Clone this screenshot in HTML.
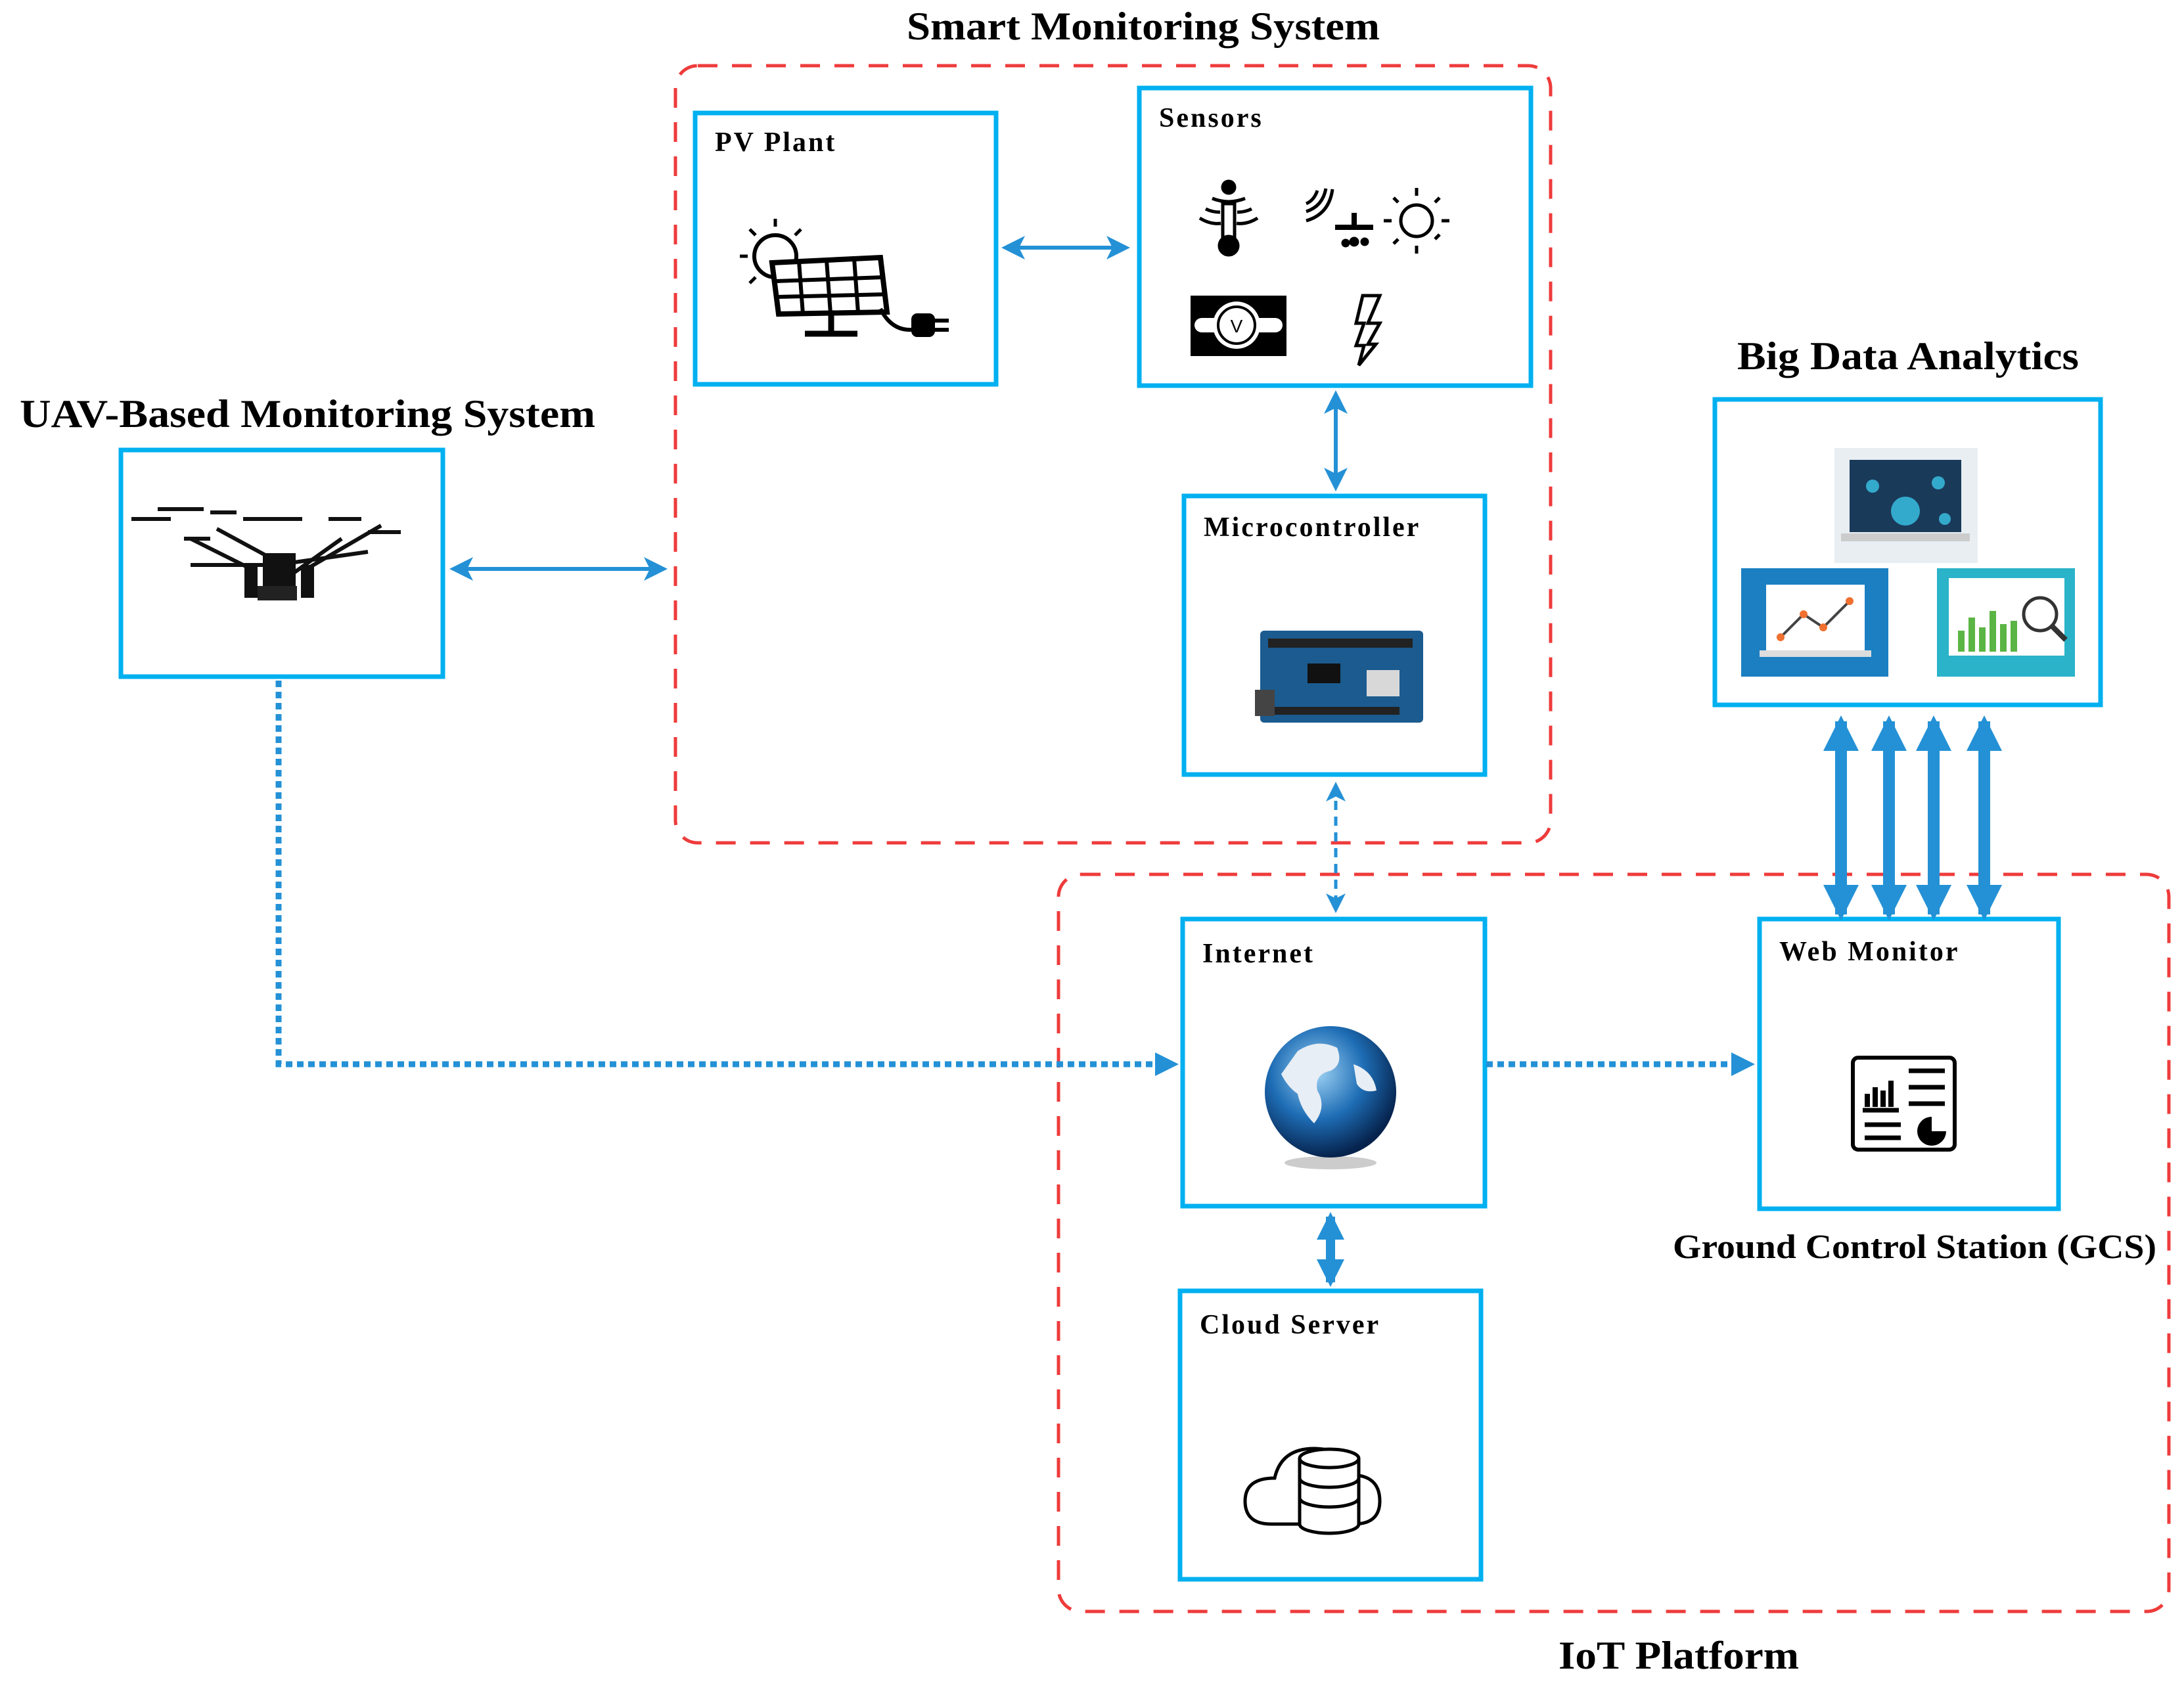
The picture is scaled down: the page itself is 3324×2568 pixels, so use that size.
<!DOCTYPE html>
<html><head><meta charset="utf-8"><style>html,body{margin:0;padding:0;background:#fff}svg{display:block}</style></head>
<body>
<svg width="3324" height="2568" viewBox="0 0 3324 2568" xmlns="http://www.w3.org/2000/svg" font-family="Liberation Serif, serif">
<defs>
<marker id="ah" markerWidth="6" markerHeight="6" refX="5" refY="3" orient="auto-start-reverse" markerUnits="strokeWidth"><path d="M0,0 L6,3 L0,6 L1.5,3 Z" fill="#2491d6"/></marker>
<marker id="ah2" markerWidth="4" markerHeight="4" refX="3" refY="2" orient="auto-start-reverse" markerUnits="strokeWidth"><path d="M0,0 L4,2 L0,4 Z" fill="#2491d6"/></marker>
<marker id="ah3" markerWidth="3" markerHeight="3" refX="2.5" refY="1.5" orient="auto-start-reverse" markerUnits="strokeWidth"><path d="M0,0 L3,1.5 L0,3 Z" fill="#2491d6"/></marker>
</defs>
<!-- titles -->
<text x="1740" y="60" font-size="60" font-weight="bold" text-anchor="middle" textLength="720" lengthAdjust="spacingAndGlyphs">Smart Monitoring System</text>
<text x="30" y="650" font-size="60" font-weight="bold" textLength="876" lengthAdjust="spacingAndGlyphs">UAV-Based Monitoring System</text>
<text x="2904" y="562" font-size="60" font-weight="bold" text-anchor="middle" textLength="520" lengthAdjust="spacingAndGlyphs">Big Data Analytics</text>
<text x="2546" y="1915" font-size="52" font-weight="bold" textLength="736" lengthAdjust="spacingAndGlyphs">Ground Control Station (GCS)</text>
<text x="2555" y="2540" font-size="60" font-weight="bold" text-anchor="middle" textLength="366" lengthAdjust="spacingAndGlyphs">IoT Platform</text>

<!-- red dashed groups -->
<rect x="1028" y="100" width="1332" height="1183" rx="34" fill="none" stroke="#ee3b3b" stroke-width="5" stroke-dasharray="30,22"/>
<rect x="1611" y="1331" width="1690" height="1122" rx="34" fill="none" stroke="#ee3b3b" stroke-width="5" stroke-dasharray="30,22"/>

<!-- boxes -->
<g fill="#fff" stroke="#00b0f0" stroke-width="7">
<rect x="1058" y="172" width="458" height="413"/>
<rect x="1734" y="134" width="596" height="453"/>
<rect x="1802" y="755" width="458" height="424"/>
<rect x="184" y="685" width="490" height="345"/>
<rect x="2610" y="608" width="587" height="465"/>
<rect x="1800" y="1399" width="460" height="437"/>
<rect x="2678" y="1399" width="455" height="441"/>
<rect x="1796" y="1965" width="458" height="439"/>
</g>
<g font-size="42" font-weight="bold" letter-spacing="3">
<text x="1088" y="230">PV Plant</text>
<text x="1764" y="193">Sensors</text>
<text x="1832" y="816">Microcontroller</text>
<text x="1830" y="1465">Internet</text>
<text x="2708" y="1462">Web Monitor</text>
<text x="1826" y="2030">Cloud Server</text>
</g>

<!-- PV icon -->
<g stroke="#000" fill="none" stroke-width="6">
<circle cx="1180" cy="390" r="32"/>
<g stroke-width="5"><path d="M1180,345v-12M1150,358l-9-9M1138,390h-12M1210,358l9-9M1150,422l-9,9"/></g>
<path d="M1175,400 L1340,392 L1350,475 L1185,478 Z" fill="#fff" stroke-width="8"/>
<path d="M1216,398 L1222,478 M1258,396 L1264,477 M1300,394 L1306,476 M1180,428 L1345,422 M1182,452 L1348,448" stroke-width="6"/>
<path d="M1265,478 v28 M1225,508 h80" stroke-width="9"/>
<path d="M1340,470 q20,40 60,30 h20"/>
<rect x="1390" y="480" width="30" height="30" rx="6" fill="#000"/>
<path d="M1420,488 h24 M1420,502 h24"/>
</g>

<!-- sensors icons -->
<g stroke="#000" fill="none" stroke-width="5">
<circle cx="1870" cy="285" r="9" fill="#000"/>
<rect x="1861" y="310" width="18" height="58"/>
<circle cx="1870" cy="374" r="14" fill="#000"/>
<path d="M1845,302 q25,10 50,0 M1835,318 q10,5 22,5 M1883,323 q12,0 22,-5 M1826,332 q16,10 32,8 M1882,340 q16,2 32,-8"/>
<path d="M1988,310 q12,-5 17,-20 M1988,322 q25,-8 30,-35 M1988,336 q35,-10 40,-48"/>
<path d="M2032,346 h58 M2061,324 v22" stroke-width="8"/>
<circle cx="2048" cy="370" r="4" fill="#000"/><circle cx="2061" cy="368" r="5" fill="#000"/><circle cx="2077" cy="368" r="4" fill="#000"/>
<circle cx="2156" cy="336" r="24"/>
<path d="M2156,298v-12 M2156,374v12 M2118,336h-12 M2194,336h12 M2128,308l-7,-7 M2184,308l7,-7 M2128,364l-7,7 M2184,364l7,-7"/>
</g>
<rect x="1812" y="450" width="146" height="92" fill="#000"/>
<rect x="1818" y="484" width="134" height="22" rx="11" fill="#fff"/>
<circle cx="1882" cy="495" r="36" fill="#fff"/>
<circle cx="1882" cy="495" r="28" fill="none" stroke="#000" stroke-width="4"/>
<text x="1882" y="506" font-size="28" text-anchor="middle" font-family="Liberation Sans, sans-serif">V</text>
<path d="M2074,450 h26 l-18,42 h18 l-18,32 h12 l-26,32 l8,-30 h-12 l12,-34 h-12 Z" fill="none" stroke="#000" stroke-width="5"/>

<!-- microcontroller board -->
<rect x="1918" y="960" width="248" height="140" rx="6" fill="#1b5b8f"/>
<rect x="1930" y="972" width="220" height="14" fill="#222"/>
<rect x="1930" y="1076" width="200" height="12" fill="#222"/>
<rect x="2080" y="1020" width="50" height="40" fill="#d8d8d8"/>
<rect x="1910" y="1050" width="30" height="40" fill="#444"/>
<rect x="1990" y="1010" width="50" height="30" fill="#111"/>

<!-- drone -->
<g stroke="#111" fill="none" stroke-width="6">
<path d="M330,805 L450,870 L520,820 M290,860 L420,860 L560,840 M390,870 L290,820 M460,870 L580,800"/>
<path d="M200,790 h60 M240,775 h70 M320,780 h40 M370,790 h50 M420,790 h40 M500,790 h50 M560,810 h50 M280,820 h40"/>
</g>
<rect x="400" y="842" width="50" height="55" fill="#111"/>
<rect x="372" y="860" width="20" height="50" fill="#111"/>
<rect x="458" y="860" width="20" height="50" fill="#111"/>
<rect x="392" y="892" width="60" height="22" fill="#222"/>

<!-- big data images -->
<rect x="2792" y="682" width="218" height="175" fill="#e8eef2"/>
<rect x="2815" y="700" width="170" height="110" fill="#1a3a5a"/>
<rect x="2802" y="812" width="196" height="12" fill="#ccc"/>
<circle cx="2900" cy="778" r="22" fill="#3ac"/>
<circle cx="2850" cy="740" r="10" fill="#3ac"/><circle cx="2950" cy="735" r="10" fill="#3ac"/><circle cx="2960" cy="790" r="9" fill="#3ac"/>
<rect x="2650" y="865" width="224" height="165" fill="#1b7fc2"/>
<rect x="2688" y="890" width="150" height="100" fill="#fff"/>
<rect x="2678" y="990" width="170" height="10" fill="#ddd"/>
<polyline points="2710,970 2745,935 2775,955 2815,915" fill="none" stroke="#444" stroke-width="4"/>
<g fill="#f07030"><circle cx="2710" cy="970" r="6"/><circle cx="2745" cy="935" r="6"/><circle cx="2775" cy="955" r="6"/><circle cx="2815" cy="915" r="6"/></g>
<rect x="2948" y="865" width="210" height="165" fill="#2ab3c9"/>
<rect x="2966" y="880" width="176" height="118" fill="#fff"/>
<g fill="#5bb544"><rect x="2980" y="960" width="10" height="32"/><rect x="2996" y="940" width="10" height="52"/><rect x="3012" y="955" width="10" height="37"/><rect x="3028" y="930" width="10" height="62"/><rect x="3044" y="950" width="10" height="42"/><rect x="3060" y="945" width="10" height="47"/></g>
<circle cx="3105" cy="935" r="25" fill="none" stroke="#333" stroke-width="5"/>
<path d="M3122,952 l22,22" stroke="#333" stroke-width="8"/>

<!-- globe -->
<defs><radialGradient id="gl" cx="40%" cy="35%" r="65%"><stop offset="0" stop-color="#9fd3f5"/><stop offset="0.55" stop-color="#1e6db5"/><stop offset="1" stop-color="#06234d"/></radialGradient></defs>
<ellipse cx="2025" cy="1770" rx="70" ry="10" fill="#ccc"/>
<circle cx="2025" cy="1662" r="100" fill="url(#gl)"/>
<path d="M1975,1600 q30,-20 60,-5 q10,25 -10,35 q-25,5 -20,30 q15,25 -5,50 q-20,-20 -25,-45 q-15,-10 -25,-30 Z M2060,1620 q30,10 35,40 q-20,5 -30,-10 Z" fill="#e8eef5"/>

<!-- web monitor icon -->
<rect x="2820" y="1610" width="155" height="140" rx="8" fill="#fff" stroke="#000" stroke-width="6"/>
<g fill="#000"><rect x="2838" y="1665" width="8" height="20"/><rect x="2850" y="1655" width="8" height="30"/><rect x="2862" y="1660" width="8" height="25"/><rect x="2874" y="1645" width="8" height="40"/></g>
<path d="M2835,1690 h55 M2905,1630 h55 M2905,1655 h55 M2905,1680 h55 M2838,1712 h55 M2838,1732 h55" stroke="#000" stroke-width="7"/>
<path d="M2940,1700 a22,22 0 1,0 22,22 h-22 Z" fill="#000"/>

<!-- cloud server -->
<path d="M1935,2320 q-40,0 -40,-35 q0,-35 45,-35 q10,-45 60,-45 q45,0 55,40 q45,0 45,40 q0,35 -40,35 Z" fill="#fff" stroke="#000" stroke-width="5"/>
<g fill="#fff" stroke="#000" stroke-width="5">
<path d="M1978,2220 v100 a45,14 0 0,0 90,0 v-100"/>
<ellipse cx="2023" cy="2220" rx="45" ry="14"/>
<path d="M1978,2250 a45,14 0 0,0 90,0 M1978,2280 a45,14 0 0,0 90,0" fill="none"/>
</g>

<!-- connectors -->
<g stroke="#2491d6" fill="none">
<line x1="1530" y1="377" x2="1714" y2="377" stroke-width="6" marker-start="url(#ah)" marker-end="url(#ah)"/>
<line x1="2033" y1="600" x2="2033" y2="742" stroke-width="6" marker-start="url(#ah)" marker-end="url(#ah)"/>
<line x1="690" y1="866" x2="1010" y2="866" stroke-width="6" marker-start="url(#ah)" marker-end="url(#ah)"/>
<line x1="2033" y1="1195" x2="2033" y2="1385" stroke-width="5" stroke-dasharray="14,10" marker-start="url(#ah)" marker-end="url(#ah)"/>
<polyline points="424,1036 424,1620 1785,1620" stroke-width="9" stroke-dasharray="10,7" marker-end="url(#ah2)"/>
<line x1="2262" y1="1620" x2="2662" y2="1620" stroke-width="9" stroke-dasharray="10,7" marker-end="url(#ah2)"/>
<line x1="2025" y1="1852" x2="2025" y2="1952" stroke-width="14" marker-start="url(#ah3)" marker-end="url(#ah3)"/>
<g stroke-width="18">
<line x1="2802" y1="1098" x2="2802" y2="1392" marker-start="url(#ah3)" marker-end="url(#ah3)"/>
<line x1="2875" y1="1098" x2="2875" y2="1392" marker-start="url(#ah3)" marker-end="url(#ah3)"/>
<line x1="2943" y1="1098" x2="2943" y2="1392" marker-start="url(#ah3)" marker-end="url(#ah3)"/>
<line x1="3020" y1="1098" x2="3020" y2="1392" marker-start="url(#ah3)" marker-end="url(#ah3)"/>
</g>
</g>
</svg>
</body></html>
